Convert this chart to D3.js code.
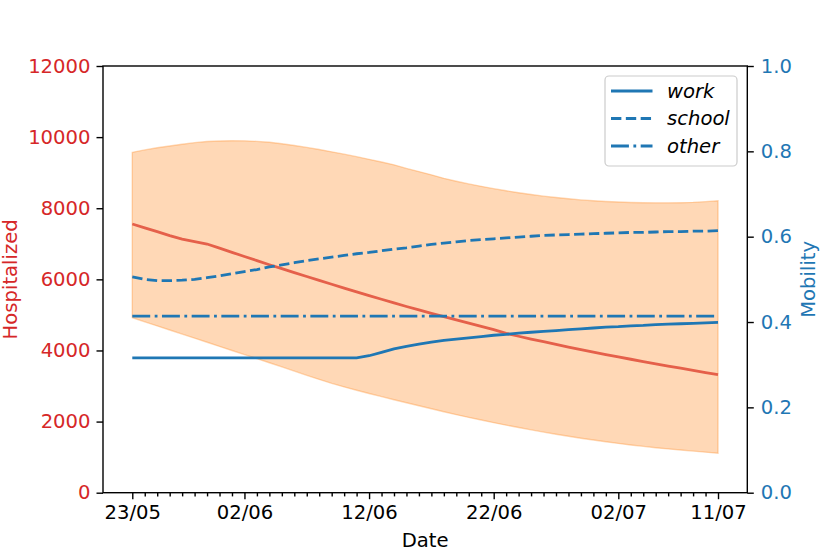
<!DOCTYPE html>
<html>
<head>
<meta charset="utf-8">
<script src="https://cdn.jsdelivr.net/npm/d3@7"></script>
<style>
  body { margin: 0; background: #fff; }
  svg { font-family: "DejaVu Sans", sans-serif; }
</style>
</head>
<body>
<div id="chart"></div>
<script>
// days since 23/05 (index), tick labels as printed on the axis
const days = d3.range(0, 48);
const tickDays = [0, 9, 19, 29, 39, 47];
const tickLabels = ["23/05", "02/06", "12/06", "22/06", "02/07", "11/07"];

const hospitalized = [7556, 7450, 7340, 7230, 7130, 7060, 6993, 6877, 6760, 6643,
    6527, 6410, 6300, 6190, 6080, 5970, 5862, 5755, 5648, 5543,
    5440, 5337, 5236, 5139, 5044, 4950, 4858, 4766, 4675, 4585,
    4480, 4400, 4322, 4246, 4171, 4097, 4025, 3955, 3886, 3819,
    3753, 3688, 3625, 3562, 3500, 3440, 3380, 3320];

const hospUpper = [9572, 9640, 9700, 9750, 9800, 9845, 9875, 9892, 9898, 9895,
    9880, 9855, 9815, 9765, 9710, 9650, 9585, 9520, 9450, 9375,
    9300, 9220, 9120, 9030, 8940, 8840, 8760, 8685, 8615, 8550,
    8490, 8435, 8385, 8340, 8300, 8265, 8235, 8210, 8190, 8175,
    8162, 8155, 8152, 8152, 8155, 8165, 8185, 8210];

const hospLower = [4921, 4805, 4690, 4575, 4460, 4345, 4230, 4115, 4000, 3885,
    3770, 3655, 3540, 3420, 3300, 3185, 3075, 2975, 2880, 2790,
    2702, 2615, 2530, 2445, 2360, 2275, 2195, 2118, 2043, 1970,
    1900, 1833, 1768, 1705, 1645, 1588, 1533, 1481, 1432, 1386,
    1343, 1303, 1266, 1232, 1200, 1170, 1140, 1110];

const work = [0.316, 0.316, 0.316, 0.316, 0.316, 0.316, 0.316, 0.316, 0.316, 0.316,
    0.316, 0.316, 0.316, 0.316, 0.316, 0.316, 0.316, 0.316, 0.316, 0.321,
    0.329, 0.337, 0.343, 0.348, 0.353, 0.357, 0.360, 0.363, 0.366, 0.369,
    0.371, 0.374, 0.376, 0.378, 0.380, 0.382, 0.384, 0.386, 0.388, 0.389,
    0.391, 0.392, 0.394, 0.395, 0.396, 0.397, 0.398, 0.399];

const school = [0.506, 0.500, 0.497, 0.497, 0.498, 0.500, 0.504, 0.508, 0.513, 0.518,
    0.523, 0.529, 0.534, 0.539, 0.544, 0.548, 0.552, 0.556, 0.560, 0.563,
    0.567, 0.571, 0.574, 0.578, 0.582, 0.585, 0.588, 0.591, 0.593, 0.595,
    0.597, 0.599, 0.601, 0.603, 0.604, 0.605, 0.606, 0.607, 0.608, 0.609,
    0.610, 0.610, 0.611, 0.612, 0.612, 0.613, 0.613, 0.614];

const other = days.map(() => 0.414);

const hospTicks = [0, 2000, 4000, 6000, 8000, 10000, 12000];
const mobTicks = [0, 0.2, 0.4, 0.6, 0.8, 1.0];

const red = "#d62728";
const blue = "#1f77b4";
const lineRed = "#e5604a";
const orange = "#ff7f0e";
const fontSize = 19.6;
const lw = 2.8;

const svg = d3.select("#chart").append("svg")
    .attr("width", 830)
    .attr("height", 554);

const plotLeft = 103, plotRight = 747.3, plotTop = 66, plotBottom = 492.7;

const x = d3.scaleLinear().domain([-2.35, 49.35]).range([plotLeft, plotRight]);
const yH = d3.scaleLinear().domain([0, 12000]).range([plotBottom, plotTop]);
const yM = d3.scaleLinear().domain([0, 1]).range([plotBottom, plotTop]);

// confidence band
const area = d3.area()
    .x(d => x(d))
    .y0(d => yH(hospLower[d]))
    .y1(d => yH(hospUpper[d]));

svg.append("path")
    .datum(days)
    .attr("d", area)
    .attr("fill", orange)
    .attr("fill-opacity", 0.3)
    .attr("stroke", orange)
    .attr("stroke-opacity", 0.3)
    .attr("stroke-width", 1.4);

// hospitalized line
svg.append("path")
    .datum(days)
    .attr("d", d3.line().x(d => x(d)).y(d => yH(hospitalized[d])))
    .attr("fill", "none")
    .attr("stroke", lineRed)
    .attr("stroke-width", lw);

// mobility lines
const mobility = [
    { name: "work", values: work, dash: null },
    { name: "school", values: school, dash: [3.7 * lw, 1.6 * lw] },
    { name: "other", values: other, dash: [6.4 * lw, 1.6 * lw, 1 * lw, 1.6 * lw] }
];

mobility.forEach(s => {
    svg.append("path")
        .datum(days)
        .attr("d", d3.line().x(d => x(d)).y(d => yM(s.values[d])))
        .attr("fill", "none")
        .attr("stroke", blue)
        .attr("stroke-width", lw)
        .attr("stroke-dasharray", s.dash ? s.dash.join(",") : null);
});

// axes
function styleAxis(g, color) {
    g.select(".domain").remove();
    g.selectAll(".tick line").attr("stroke", "#000").attr("stroke-width", 1.4);
    g.selectAll(".tick text")
        .attr("fill", color)
        .attr("font-size", fontSize)
        .attr("font-family", "DejaVu Sans");
}

svg.append("g")
    .attr("transform", `translate(${plotLeft},0)`)
    .call(d3.axisLeft(yH).tickValues(hospTicks).tickSize(6.5).tickPadding(6)
        .tickFormat(d3.format("d")))
    .call(g => styleAxis(g, red));

svg.append("g")
    .attr("transform", `translate(${plotRight},0)`)
    .call(d3.axisRight(yM).tickValues(mobTicks).tickSize(6.5).tickPadding(7)
        .tickFormat(d3.format(".1f")))
    .call(g => styleAxis(g, blue));

svg.append("g")
    .attr("transform", `translate(0,${plotBottom})`)
    .call(d3.axisBottom(x).tickValues(days.filter(d => !tickDays.includes(d)))
        .tickSize(3.7).tickFormat(""))
    .call(g => styleAxis(g, "#000"));

svg.append("g")
    .attr("transform", `translate(0,${plotBottom})`)
    .call(d3.axisBottom(x).tickValues(tickDays).tickSize(6.5).tickPadding(6)
        .tickFormat((d, i) => tickLabels[i]))
    .call(g => styleAxis(g, "#000"));

// spines
svg.append("rect")
    .attr("x", plotLeft).attr("y", plotTop)
    .attr("width", plotRight - plotLeft).attr("height", plotBottom - plotTop)
    .attr("fill", "none")
    .attr("stroke", "#000")
    .attr("stroke-width", 1.4);

// axis labels
svg.append("text")
    .attr("transform", `translate(17,${(plotTop + plotBottom) / 2}) rotate(-90)`)
    .attr("text-anchor", "middle")
    .attr("font-size", fontSize)
    .attr("fill", red)
    .text("Hospitalized");

svg.append("text")
    .attr("transform", `translate(815,${(plotTop + plotBottom) / 2}) rotate(-90)`)
    .attr("text-anchor", "middle")
    .attr("font-size", fontSize)
    .attr("fill", blue)
    .text("Mobility");

svg.append("text")
    .attr("x", (plotLeft + plotRight) / 2)
    .attr("y", 547)
    .attr("text-anchor", "middle")
    .attr("font-size", fontSize)
    .attr("fill", "#000")
    .text("Date");

// legend
const legend = svg.append("g");
legend.append("rect")
    .attr("x", 605).attr("y", 76)
    .attr("width", 132).attr("height", 90)
    .attr("rx", 4)
    .attr("fill", "#fff").attr("fill-opacity", 0.8)
    .attr("stroke", "#cccccc").attr("stroke-width", 1.2);

mobility.forEach((s, i) => {
    const yy = 91 + i * 27.5;
    legend.append("line")
        .attr("x1", 611).attr("x2", 652.5)
        .attr("y1", yy).attr("y2", yy)
        .attr("stroke", blue)
        .attr("stroke-width", lw)
        .attr("stroke-dasharray", s.dash ? s.dash.join(",") : null);
    legend.append("text")
        .attr("x", 667)
        .attr("y", yy)
        .attr("dy", "0.35em")
        .attr("font-size", fontSize)
        .attr("font-style", "italic")
        .text(s.name);
});
</script>
</body>
</html>
